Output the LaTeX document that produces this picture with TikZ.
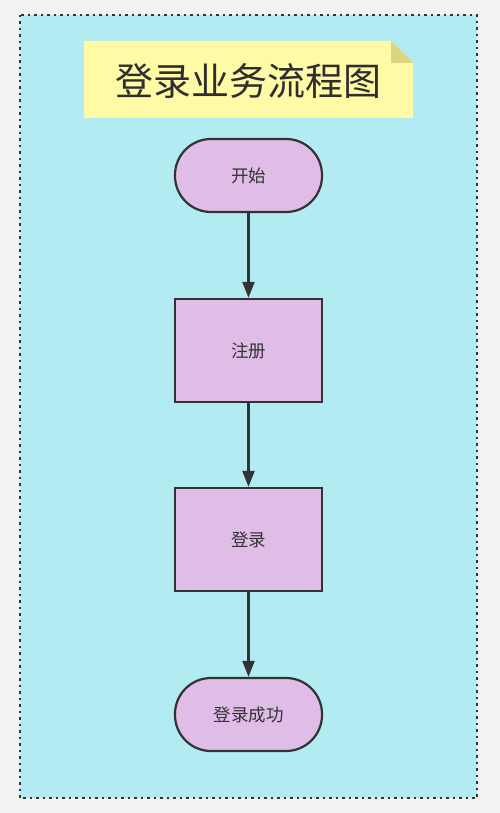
\documentclass[tikz,border=0pt]{standalone}
\usepackage{fontspec}
\setmainfont{Noto Sans CJK SC}
\usetikzlibrary{arrows.meta}
\definecolor{pagegray}{HTML}{F2F2F2}
\definecolor{skyfill}{HTML}{B3EBF2}
\definecolor{notefill}{HTML}{FFFAA6}
\definecolor{notefold}{HTML}{DDD480}
\definecolor{boxfill}{HTML}{E0BDE6}
\definecolor{inkgray}{HTML}{333333}
\tikzset{
  terminal/.style={draw=inkgray, line width=2.2pt, fill=boxfill, rounded corners=36pt,
    minimum width=147pt, minimum height=73pt, inner sep=0pt, text=inkgray, font=\fontsize{17.5}{20}\selectfont},
  process/.style={draw=inkgray, line width=2.2pt, fill=boxfill,
    minimum width=147pt, minimum height=103pt, inner sep=0pt, text=inkgray, font=\fontsize{17.5}{20}\selectfont},
  flow/.style={draw=inkgray, line width=2.2pt, -{Triangle[width=12pt, length=16pt]}}
}
\begin{document}
\begin{tikzpicture}[x=1pt, y=-1pt]
    % page and frame
    \fill[pagegray] (0,0) rectangle (500,813);
    \useasboundingbox (0,0) rectangle (500,813);
    \draw[inkgray, fill=skyfill, line width=2.5pt, dash pattern=on 2.5pt off 4pt] (20,15) rectangle (477,798);
    % title note
    \fill[notefill] (84,41) -- (391,41) -- (413,63) -- (413,118) -- (84,118) -- cycle;
    \fill[notefold] (391,41) -- (413,63) -- (391,63) -- cycle;
    \node[text=inkgray!90!black, font=\fontsize{38}{42}\selectfont, inner sep=0pt] (title) at (248,81) {登录业务流程图};
    % flow
    \node[terminal] (start) at (248.5,175.5) {开始};
    \node[process] (register) at (248.5,350.5) {注册};
    \node[process] (login) at (248.5,539.5) {登录};
    \node[terminal] (success) at (248.5,714.5) {登录成功};
    \draw[flow] (start) -- (register);
    \draw[flow] (register) -- (login);
    \draw[flow] (login) -- (success);
\end{tikzpicture}
\end{document}
